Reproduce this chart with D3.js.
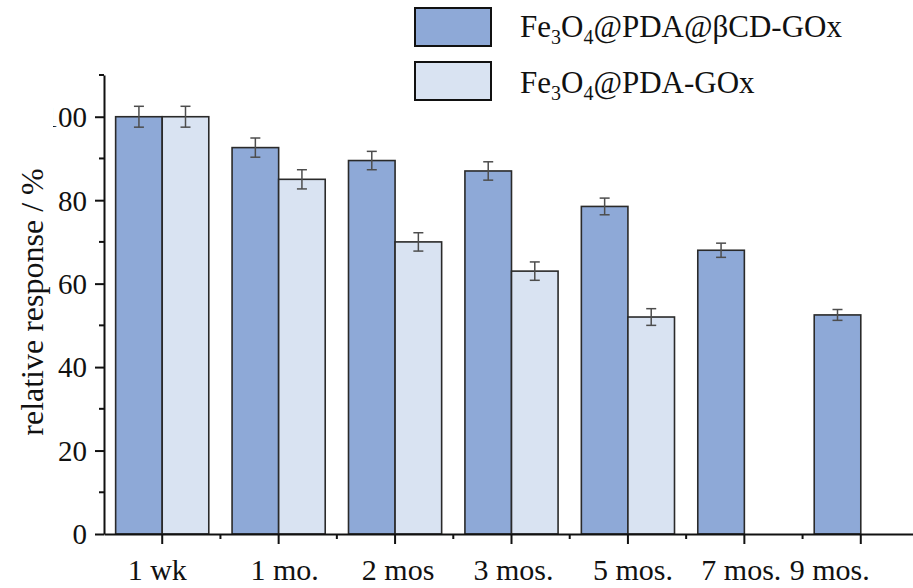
<!DOCTYPE html>
<html>
<head>
<meta charset="utf-8">
<script src="https://cdn.jsdelivr.net/npm/d3@7/dist/d3.min.js"></script>
<style>
  html, body { margin: 0; padding: 0; background: #fff; }
  svg { display: block; }
  text { font-family: "Liberation Serif", "Times New Roman", serif; fill: #111; }
</style>
</head>
<body>
<svg id="chart" width="913" height="588"></svg>
<script>
// Storage periods
const categories = ["1 wk", "1 mo.", "2 mos", "3 mos.", "5 mos.", "7 mos.", "9 mos."];
// Series names
const seriesNames = ["Fe3O4@PDA@βCD-GOx", "Fe3O4@PDA-GOx"];
// Relative response (%) and standard deviations
const betaCdValues = [100, 92.6, 89.5, 87.0, 78.5, 68.0, 52.5];
const betaCdErrors = [2.5, 2.3, 2.2, 2.2, 2.0, 1.7, 1.3];
const pdaValues = [100, 85.0, 70.0, 63.0, 52.0, null, null];
const pdaErrors = [2.5, 2.3, 2.2, 2.2, 2.0, null, null];
// Axis ticks
const yMajorTicks = [0, 20, 40, 60, 80, 100];
const yMinorTicks = [10, 30, 50, 70, 90, 110];

const colors = ["#8EA9D7", "#D9E3F2"];

const svg = d3.select("#chart");
const x0 = d3.scaleBand().domain(categories).range([104, 919]).paddingInner(0.2).paddingOuter(0.1);
const x1 = d3.scaleBand().domain(seriesNames).range([0, x0.bandwidth()]);
const y = d3.scaleLinear().domain([0, 110]).range([534, 75]);

const rows = categories.map((c, i) => ({
  cat: c,
  vals: [
    { s: seriesNames[0], v: betaCdValues[i], e: betaCdErrors[i], k: 0 },
    { s: seriesNames[1], v: pdaValues[i], e: pdaErrors[i], k: 1 }
  ].filter(d => d.v != null)
}));

// Bars
const groups = svg.append("g").selectAll("g").data(rows).join("g")
  .attr("transform", d => `translate(${x0(d.cat)},0)`);
groups.selectAll("rect").data(d => d.vals).join("rect")
  .attr("x", d => x1(d.s))
  .attr("y", d => y(d.v))
  .attr("width", x1.bandwidth())
  .attr("height", d => y(0) - y(d.v))
  .attr("fill", d => colors[d.k])
  .attr("stroke", "#2a2a2a")
  .attr("stroke-width", 1.6);

// Error bars
const eb = groups.selectAll("g.err").data(d => d.vals).join("g").attr("class", "err")
  .attr("stroke", "#4d4d4d").attr("stroke-width", 1.5).attr("fill", "none");
const cx = d => x1(d.s) + x1.bandwidth() / 2;
eb.append("line").attr("x1", cx).attr("x2", cx)
  .attr("y1", d => y(d.v + d.e)).attr("y2", d => y(d.v - d.e));
eb.append("line").attr("x1", d => cx(d) - 5).attr("x2", d => cx(d) + 5)
  .attr("y1", d => y(d.v + d.e)).attr("y2", d => y(d.v + d.e));
eb.append("line").attr("x1", d => cx(d) - 5).attr("x2", d => cx(d) + 5)
  .attr("y1", d => y(d.v - d.e)).attr("y2", d => y(d.v - d.e));

// Y axis (tick labels trimmed at the left page margin)
const clip = svg.append("defs").append("clipPath").attr("id", "yclip");
clip.append("rect").attr("x", 53 - 104).attr("y", 0).attr("width", 900).attr("height", 588);

const yAxis = svg.append("g").attr("transform", "translate(104,0)")
  .attr("clip-path", "url(#yclip)")
  .call(d3.axisLeft(y).tickValues(yMajorTicks).tickSize(9).tickSizeOuter(0).tickPadding(8).tickFormat(d3.format("d")));
yAxis.selectAll("text").style("font-size", "29px").attr("fill", "#111")
  .style("font-family", "Liberation Serif").attr("dy", "0.34em");
yAxis.select(".domain").attr("stroke", "#111").attr("stroke-width", 2);
yAxis.selectAll(".tick line").attr("stroke", "#111").attr("stroke-width", 2);
svg.append("g").selectAll("line").data(yMinorTicks).join("line")
  .attr("x1", 99).attr("x2", 104).attr("y1", d => y(d)).attr("y2", d => y(d))
  .attr("stroke", "#111").attr("stroke-width", 2);

// X axis
const labelShift = { "1 wk": -5, "1 mo.": 6, "2 mos": 3, "3 mos.": 2, "5 mos.": 5, "7 mos.": -3, "9 mos.": -31 };
const xAxis = svg.append("g").attr("transform", "translate(0,534)")
  .call(d3.axisBottom(x0).tickSize(10).tickSizeOuter(0).tickPadding(15));
xAxis.selectAll("text").style("font-size", "30px").attr("fill", "#111")
  .style("font-family", "Liberation Serif")
  .attr("dx", d => labelShift[d]);
xAxis.select(".domain").attr("stroke", "#111").attr("stroke-width", 2);
xAxis.selectAll(".tick line").attr("stroke", "#111").attr("stroke-width", 2);
const step = x0.step();
svg.append("g").selectAll("line").data(d3.range(categories.length))
  .join("line")
  .attr("x1", i => x0(categories[0]) + x0.bandwidth() / 2 + step * (i + 0.5))
  .attr("x2", i => x0(categories[0]) + x0.bandwidth() / 2 + step * (i + 0.5))
  .attr("y1", 534).attr("y2", 539)
  .attr("stroke", "#111").attr("stroke-width", 2);

// Y axis title
svg.append("text")
  .attr("transform", "translate(43,302) rotate(-90)")
  .attr("text-anchor", "middle")
  .style("font-size", "32px")
  .text("relative response / %");

// Legend
const legend = svg.append("g");
const legendRows = [
  { k: 0, y: 8, base: 37, parts: ["Fe", "3", "O", "4", "@PDA@βCD-GOx"] },
  { k: 1, y: 62, base: 93, parts: ["Fe", "3", "O", "4", "@PDA-GOx"] }
];
legendRows.forEach(r => {
  legend.append("rect").attr("x", 415).attr("y", r.y).attr("width", 76).attr("height", 38)
    .attr("fill", colors[r.k]).attr("stroke", "#111").attr("stroke-width", 2);
  const t = legend.append("text").attr("x", 520).attr("y", r.base).style("font-size", "31px");
  r.parts.forEach((p, i) => {
    const sub = i % 2 === 1;
    t.append("tspan").text(p)
      .attr("dy", sub ? 6.5 : (i > 0 ? -6.5 : 0))
      .style("font-size", sub ? "20px" : "31px");
  });
});
</script>
</body>
</html>
